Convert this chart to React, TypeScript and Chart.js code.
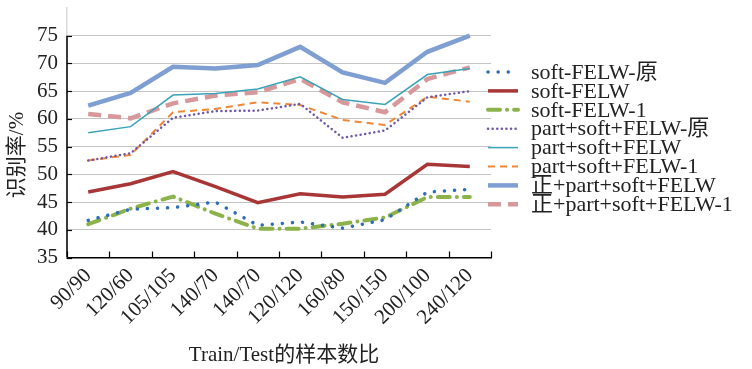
import React, { useEffect, useRef } from 'react';
import { Chart, registerables } from 'chart.js';

Chart.register(...registerables);

const categories = ['90/90', '120/60', '105/105', '140/70', '140/70', '120/120', '160/80', '150/150', '200/100', '240/120'];

const softOrig = [41.7, 43.7, 44.0, 45.0, 40.8, 41.4, 40.3, 41.8, 46.8, 47.3];
const softFelw = [46.8, 48.3, 50.5, 47.8, 44.9, 46.5, 45.9, 46.4, 51.8, 51.4];
const soft1 = [41.0, 43.8, 46.0, 42.9, 40.2, 40.2, 41.1, 42.2, 45.9, 45.9];
const partOrig = [52.5, 53.8, 60.2, 61.4, 61.5, 62.7, 56.6, 57.9, 63.9, 65.0];
const partFelw = [57.5, 58.6, 64.3, 64.6, 65.4, 67.6, 63.5, 62.6, 68.0, 69.1];
const part1 = [52.5, 53.5, 61.2, 61.8, 63.0, 62.5, 59.8, 58.9, 64.0, 63.1];
const zhengFelw = [62.4, 64.7, 69.4, 69.1, 69.7, 73.0, 68.4, 66.5, 72.1, 75.0];
const zheng1 = [60.9, 60.1, 62.8, 64.2, 64.8, 67.2, 63.0, 61.2, 67.2, 69.3];

const yTickValues = [35, 40, 45, 50, 55, 60, 65, 70, 75];
const yMin = 35;
const yMax = 80;

const xTitle = 'Train/Test的样本数比';
const yTitle = '识别率/%';

const SERIF = '"Liberation Serif", "Times New Roman", "Noto Sans CJK SC", serif';

const axisDecor = {
  id: 'axisDecor',
  afterDraw(chart: any) {
    const { ctx, chartArea, scales } = chart;
    const x = scales.x;
    const y = scales.y;
    ctx.save();
    ctx.strokeStyle = '#000';
    ctx.lineWidth = 1.5;
    ctx.beginPath();
    ctx.moveTo(chartArea.left, y.getPixelForValue(yTickValues[yTickValues.length - 1]));
    ctx.lineTo(chartArea.left, y.getPixelForValue(yTickValues[0]));
    ctx.stroke();
    ctx.lineWidth = 1.2;
    yTickValues.forEach((v) => {
      const py = Math.round(y.getPixelForValue(v)) + 0.5;
      ctx.beginPath();
      ctx.moveTo(chartArea.left, py);
      ctx.lineTo(chartArea.left + 5, py);
      ctx.stroke();
    });
    for (let i = 0; i <= categories.length; i++) {
      const px = Math.round(x.getPixelForValue(i - 0.5)) + 0.5;
      ctx.beginPath();
      ctx.moveTo(px, chartArea.bottom);
      ctx.lineTo(px, chartArea.bottom - 6);
      ctx.stroke();
    }
    // titles
    ctx.fillStyle = '#222';
    ctx.font = `21px ${SERIF}`;
    ctx.textAlign = 'center';
    ctx.textBaseline = 'middle';
    ctx.fillText(xTitle, (chartArea.left + chartArea.right) / 2 + 5, 355);
    ctx.save();
    ctx.translate(17, 155);
    ctx.rotate(-Math.PI / 2);
    ctx.fillText(yTitle, 0, 0);
    ctx.restore();

    // legend
    const datasets = chart.data.datasets;
    const sx = chartArea.right - 3;
    const sw = 30;
    ctx.textAlign = 'left';
    ctx.font = `22px ${SERIF}`;
    datasets.forEach((ds: any, i: number) => {
      const cy = 72 + i * 18.9;
      ctx.save();
      ctx.strokeStyle = ds.borderColor;
      ctx.lineWidth = ds.borderWidth;
      ctx.lineCap = ds.borderCapStyle || 'butt';
      ctx.setLineDash(ds.borderDash || []);
      ctx.beginPath();
      ctx.moveTo(sx, cy);
      ctx.lineTo(sx + sw, cy);
      ctx.stroke();
      ctx.restore();
      ctx.fillStyle = '#222';
      ctx.fillText(ds.label, sx + sw + 13, cy + 1);
    });
    ctx.restore();
  },
};

export default function App() {
  const ref = useRef<HTMLCanvasElement>(null);

  useEffect(() => {
    if (!ref.current) return;
    const mk = (label: string, data: number[], color: string, width: number, dash: number[], cap: string = 'butt') => ({
      label,
      data,
      borderColor: color,
      backgroundColor: color,
      borderWidth: width,
      borderDash: dash,
      borderCapStyle: cap,
      pointRadius: 0,
      pointHoverRadius: 0,
      tension: 0,
      fill: false,
    });
    const chart = new Chart(ref.current, {
      type: 'line',
      data: {
        labels: categories,
        datasets: [
          mk('soft-FELW-原', softOrig, '#2f6db5', 3.5, [0.1, 10], 'round'),
          mk('soft-FELW', softFelw, '#a83636', 3.5, []),
          mk('soft-FELW-1', soft1, '#8bb34a', 4, [12, 7, 0.1, 7], 'round'),
          mk('part+soft+FELW-原', partOrig, '#7259a5', 2.5, [0.1, 4.5], 'round'),
          mk('part+soft+FELW', partFelw, '#3aa3b8', 1.5, []),
          mk('part+soft+FELW-1', part1, '#ee8737', 2, [7, 5]),
          mk('正+part+soft+FELW', zhengFelw, '#7f9fd2', 4.5, []),
          mk('正+part+soft+FELW-1', zheng1, '#d6989a', 4.5, [13, 7]),
        ] as any,
      },
      options: {
        animation: false,
        responsive: false,
        maintainAspectRatio: false,
        layout: { padding: { left: 28, right: 261, top: 8, bottom: 33 } },
        plugins: {
          tooltip: { enabled: false },
          legend: { display: false },
        },
        scales: {
          x: {
            type: 'category',
            offset: true,
            grid: { display: true, drawOnChartArea: false, drawTicks: false, offset: true },
            border: { display: true, color: '#000', width: 1.5 },
            ticks: {
              autoSkip: false,
              maxRotation: 45,
              minRotation: 45,
              padding: 6,
              color: '#222',
              font: { family: SERIF, size: 21 },
            },
          },
          y: {
            type: 'linear',
            min: yMin,
            max: yMax,
            afterBuildTicks: (scale: any) => {
              scale.ticks = yTickValues.map((v) => ({ value: v }));
            },
            afterFit: (scale: any) => {
              scale.paddingTop = 0;
            },
            grid: { color: '#c4c4c4', lineWidth: 1, drawTicks: false },
            border: { display: true, color: '#d8d8d8', width: 1.5 },
            ticks: {
              autoSkip: false,
              padding: 9,
              color: '#222',
              font: { family: SERIF, size: 21 },
            },
          },
        },
      },
      plugins: [axisDecor],
    } as any);
    return () => chart.destroy();
  }, []);

  return (
    <div style={{ position: 'absolute', left: 0, top: 0, width: 752, height: 369, background: '#fff' }}>
      <canvas ref={ref} width={752} height={369} style={{ width: 752, height: 369 }} />
    </div>
  );
}
